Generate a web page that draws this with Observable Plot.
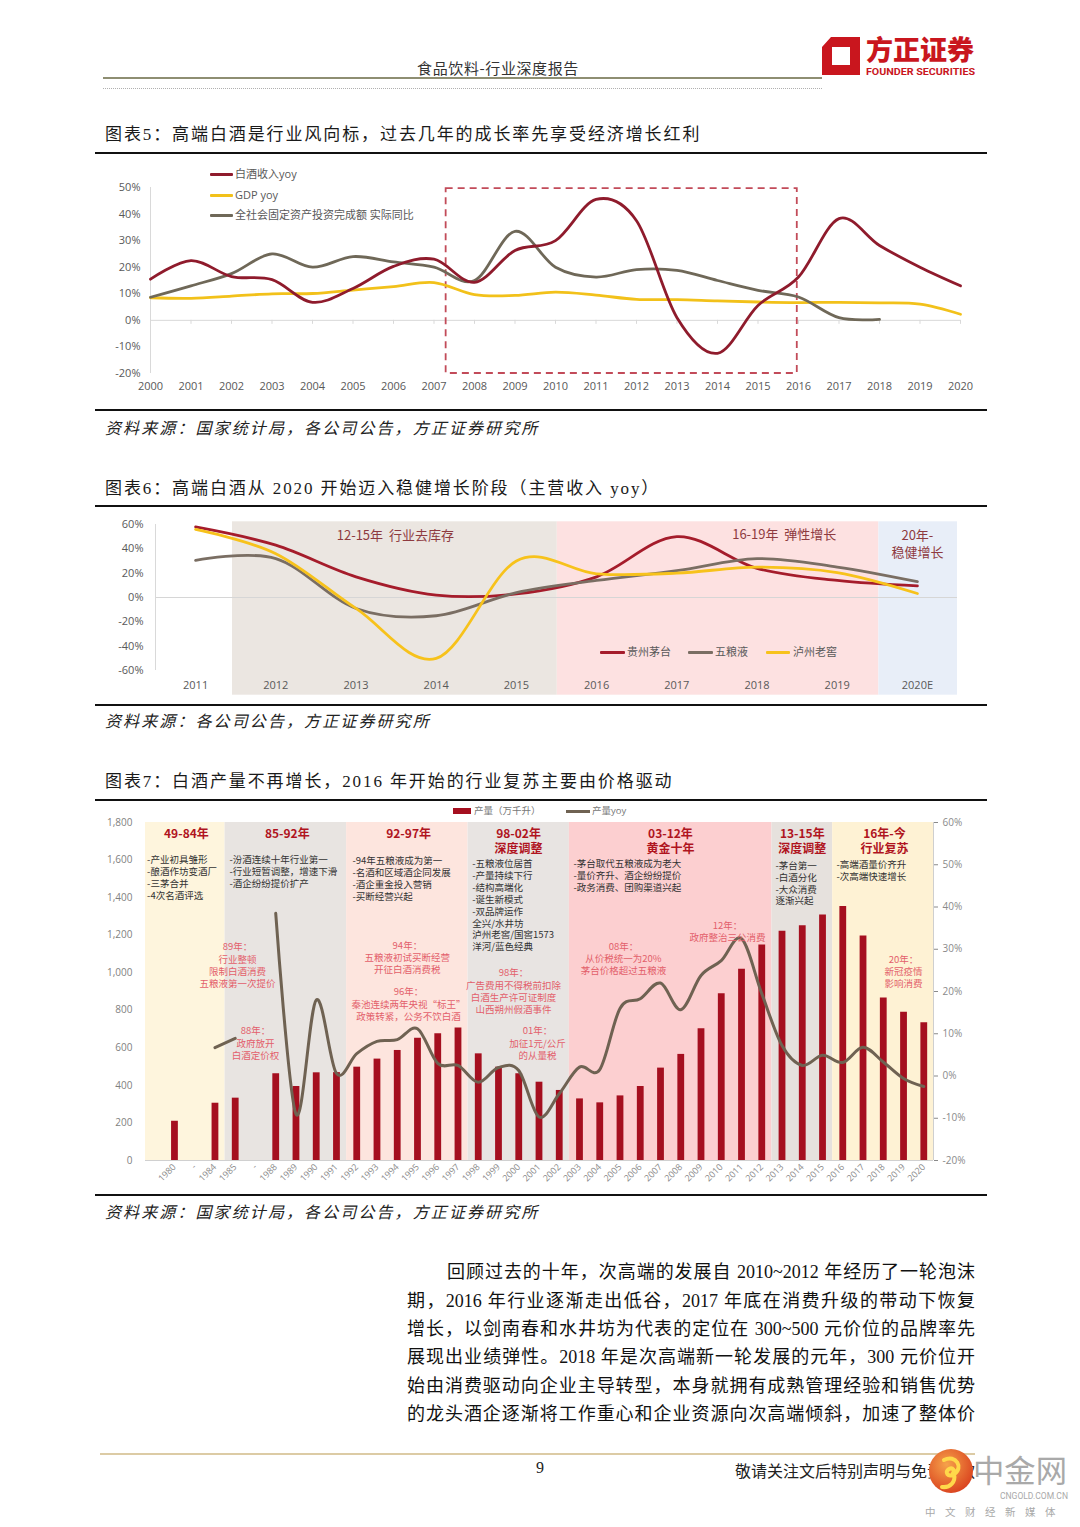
<!DOCTYPE html>
<html lang="zh">
<head>
<meta charset="utf-8">
<script src="https://cdn.jsdelivr.net/npm/d3@7"></script>
<script src="https://cdn.jsdelivr.net/npm/@observablehq/plot@0.6"></script>
<style>
html,body{margin:0;padding:0;background:#fff;}
#page{position:relative;width:1080px;height:1527px;overflow:hidden;background:#fff;font-family:"Noto Sans CJK SC","Noto Sans",sans-serif;color:#222;}
.a{position:absolute;white-space:nowrap;}
.title{left:105px;font-family:"Liberation Serif","Noto Sans CJK SC",serif;font-size:17px;line-height:20px;letter-spacing:1.9px;color:#1a1a1a;}
.src{left:105px;font-size:16px;line-height:20px;letter-spacing:2.1px;font-style:italic;color:#222;}
.thick{position:absolute;left:95px;width:892px;height:0;border-top:2.5px solid #111;}
.lg{font-family:"Open Sans","Noto Sans CJK SC",sans-serif;font-size:11px;line-height:14px;color:#595959;}
.sw{position:absolute;height:3px;border-radius:1px;}
.para{position:absolute;font-family:"Liberation Serif","Noto Sans CJK SC",serif;font-size:18px;line-height:22px;text-align:justify;text-align-last:justify;color:#111;}
.chart{position:absolute;left:0;}
</style>
</head>
<body>
<div id="page">
  <!-- header -->
  <div class="a" style="left:0;width:996px;top:58px;text-align:center;font-size:15px;line-height:20px;letter-spacing:0.6px;color:#333;">食品饮料-行业深度报告</div>
  <div class="a" style="left:103px;top:77px;width:719px;height:0;border-top:2px solid #8e8e72;"></div>
  <div class="a" style="left:103px;top:88px;width:719px;height:0;border-top:1px dotted #b0b0b0;"></div>
  <svg class="a" style="left:815px;top:30px;" width="170" height="55" viewBox="0 0 170 55">
    <path d="M16 7 L45 7 L45 45 L7 45 L7 17 Z M17 17 L17 35 L35 35 L35 17 Z" fill="#c9161e" fill-rule="evenodd"/>
    <text x="51" y="30" font-family="Noto Sans CJK SC" font-weight="900" font-size="27" fill="#c9161e" textLength="108" lengthAdjust="spacingAndGlyphs">方正证券</text>
    <text x="51" y="45" font-family="Roboto, sans-serif" font-weight="700" font-size="9.5" fill="#c9161e" textLength="109" lengthAdjust="spacingAndGlyphs">FOUNDER SECURITIES</text>
  </svg>

  <!-- chart 5 -->
  <div class="a title" style="top:125px;">图表5：高端白酒是行业风向标，过去几年的成长率先享受经济增长红利</div>
  <div class="thick" style="top:152px;"></div>
  <div class="chart" id="c5" style="top:170px;"></div>
  <div class="sw" style="left:210px;top:172.5px;width:23px;background:#8f1b2c"></div>
  <div class="a lg" style="left:235px;top:167px;">白酒收入yoy</div>
  <div class="sw" style="left:210px;top:193.5px;width:23px;background:#f2c11a"></div>
  <div class="a lg" style="left:235px;top:188px;">GDP yoy</div>
  <div class="sw" style="left:210px;top:213.5px;width:23px;background:#6f6858"></div>
  <div class="a lg" style="left:235px;top:208px;">全社会固定资产投资完成额 实际同比</div>
  <div class="thick" style="top:409px;"></div>
  <div class="a src" style="top:417px;">资料来源：国家统计局，各公司公告，方正证券研究所</div>

  <!-- chart 6 -->
  <div class="a title" style="top:479px;">图表6：高端白酒从 2020 开始迈入稳健增长阶段（主营收入 yoy）</div>
  <div class="thick" style="top:505px;"></div>
  <div class="chart" id="c6" style="top:510px;"></div>
  <div class="sw" style="left:600px;top:650.5px;width:25px;background:#a51c2b"></div>
  <div class="a lg" style="left:627px;top:645px;">贵州茅台</div>
  <div class="sw" style="left:688px;top:650.5px;width:25px;background:#7a6e63"></div>
  <div class="a lg" style="left:715px;top:645px;">五粮液</div>
  <div class="sw" style="left:766px;top:650.5px;width:24px;background:#f7c21b"></div>
  <div class="a lg" style="left:793px;top:645px;">泸州老窖</div>
  <div class="thick" style="top:704px;"></div>
  <div class="a src" style="top:710px;">资料来源：各公司公告，方正证券研究所</div>

  <!-- chart 7 -->
  <div class="a title" style="top:772px;">图表7：白酒产量不再增长，2016 年开始的行业复苏主要由价格驱动</div>
  <div class="thick" style="top:799px;"></div>
  <div class="chart" id="c7" style="top:815px;"></div>
  <div class="a" style="left:453px;top:808px;width:18px;height:6px;background:#a50f1f;"></div>
  <div class="a lg" style="left:474px;top:804px;font-size:9.5px;color:#777;">产量（万千升）</div>
  <div class="a" style="left:566px;top:809.5px;width:24px;height:3px;background:#6f6252;"></div>
  <div class="a lg" style="left:592px;top:804px;font-size:9.5px;color:#777;">产量yoy</div>
  <div class="thick" style="top:1194px;"></div>
  <div class="a src" style="top:1201px;">资料来源：国家统计局，各公司公告，方正证券研究所</div>

  <!-- paragraph -->
  <div class="para" style="left:447px;width:528px;top:1261px;">回顾过去的十年，次高端的发展自 2010~2012 年经历了一轮泡沫</div>
  <div class="para" style="left:407px;width:568px;top:1289.5px;">期，2016 年行业逐渐走出低谷，2017 年底在消费升级的带动下恢复</div>
  <div class="para" style="left:407px;width:568px;top:1318px;">增长，以剑南春和水井坊为代表的定位在 300~500 元价位的品牌率先</div>
  <div class="para" style="left:407px;width:568px;top:1346px;">展现出业绩弹性。2018 年是次高端新一轮发展的元年，300 元价位开</div>
  <div class="para" style="left:407px;width:568px;top:1374.5px;">始由消费驱动向企业主导转型，本身就拥有成熟管理经验和销售优势</div>
  <div class="para" style="left:407px;width:568px;top:1403px;">的龙头酒企逐渐将工作重心和企业资源向次高端倾斜，加速了整体价</div>

  <!-- footer -->
  <div class="a" style="left:100px;top:1453px;width:875px;height:0;border-top:2px solid #dccba5;"></div>
  <div class="a" style="left:530px;top:1458px;width:20px;text-align:center;font-family:'Liberation Serif',serif;font-size:16px;line-height:20px;color:#222;">9</div>
  <div class="a" style="left:735px;top:1460px;font-size:16px;line-height:20px;color:#222;">敬请关注文后特别声明与免责条款</div>
  <svg class="a" style="left:920px;top:1440px;" width="160" height="87" viewBox="0 0 160 87">
    <defs><radialGradient id="wg" cx="40%" cy="35%" r="70%"><stop offset="0" stop-color="#f6a24a"/><stop offset="1" stop-color="#d9401e"/></radialGradient></defs>
    <circle cx="31" cy="31" r="22" fill="url(#wg)"/>
    <path d="M24 20 C36 14 44 28 34 34 C28 38 24 32 29 29 C33 27 35 31 33 33 M34 34 C36 42 30 48 22 47" fill="none" stroke="#ffd84a" stroke-width="4" stroke-linecap="round"/>
    <text x="53" y="42" font-family="Noto Sans CJK SC" font-size="31" fill="#a9a9a9" textLength="94" lengthAdjust="spacingAndGlyphs">中金网</text>
    <text x="80" y="59" font-family="Roboto, sans-serif" font-size="8.5" fill="#a9a9a9" textLength="68" lengthAdjust="spacingAndGlyphs">CNGOLD.COM.CN</text>
    <text x="5" y="76" font-family="Noto Sans CJK SC" font-size="10.5" fill="#a9a9a9" letter-spacing="9.5">中文财经新媒体</text>
  </svg>
</div>

<script>
const FONT = '"Open Sans","Noto Sans CJK SC",sans-serif';

// ================= Chart 5 data =================
const years5 = [2000,2001,2002,2003,2004,2005,2006,2007,2008,2009,2010,2011,2012,2013,2014,2015,2016,2017,2018,2019,2020];
const baijiuYoy5 = [15.5,22.5,16.5,15.3,6.8,12,20.3,23,14.3,26.3,30,45.5,37.5,1,-12.4,5.6,16.3,38.3,28.2,20,13];
const gdpYoy5 = [8.5,8.3,9.1,10.0,10.1,11.4,12.7,14.2,9.7,9.4,10.6,9.5,7.9,7.8,7.3,6.9,6.7,6.8,6.6,6.1,2.3];
const investYoy5 = [8.7,13,17.6,25,20,24,22,20,15,33.5,20,16.3,19.1,18.8,15,11.3,8.8,1,0.4,null,null];
const yTicks5 = [-20,-10,0,10,20,30,40,50];
const focusBox5 = [{from: 2007.3, to: 2015.97, low: -20, high: 49.6}];

// ================= Chart 6 data =================
const years6 = [2011,2012,2013,2014,2015,2016,2017,2018,2019,2020];
const yearLabels6 = ["2011","2012","2013","2014","2015","2016","2017","2018","2019","2020E"];
const maotai6 = [58,43,17,2,3,17,50,24,14,9.5];
const wuliangye6 = [30.5,32,-9,-15,4,14,22,32,25,13];
const luzhou6 = [56,36,-9,-50,30,19.5,20,25,20.5,3.3];
const yTicks6 = [-60,-40,-20,0,20,40,60];
const phases6 = [
  {name: "去库存", from: 2011.46, to: 2015.51},
  {name: "弹性增长", from: 2015.51, to: 2019.52},
  {name: "稳健增长", from: 2019.52, to: 2020.5}
];
const phaseSpan6 = {low: -80.3, high: 62.2};
const phaseLabels6 = [
  {text: "12-15年  行业去库存", x: 2013.49, y: 51.5},
  {text: "16-19年  弹性增长", x: 2018.34, y: 52.3},
  {text: "20年-\n稳健增长", x: 2020.0, y: 45.0}
];

// ================= Chart 7 data =================
const labels7 = ["1980","-","1984","1985","-","1988","1989","1990","1991","1992","1993","1994","1995","1996","1997","1998","1999","2000","2001","2002","2003","2004","2005","2006","2007","2008","2009","2010","2011","2012","2013","2014","2015","2016","2017","2018","2019","2020"];
const production7 = [209,null,305,332,null,462,394,467,468,497,540,586,651,675,705,568,497,462,417,373,328,307,344,394,492,565,701,888,1019,1148,1221,1250,1308,1353,1195,866,790,734];
const yoy7 = [null,null,6.7,8.9,null,38.5,-9,18,0.6,5.3,8.2,8.6,11.2,3,2.5,-1.5,2,1.3,-9.7,-4.2,2.1,1.5,16,18.3,22,15.7,23.8,27.3,32.5,19.5,7.2,2.5,4.9,3.2,6.8,3.3,-0.6,-2.5];
const leftTicks7 = [0,200,400,600,800,1000,1200,1400,1600,1800];
const pctTicks7 = [-20,-10,0,10,20,30,40,50,60];
const eras7 = [
  {title: "49-84年", first: "1980", last: "1984"},
  {title: "85-92年", first: "1985", last: "1991"},
  {title: "92-97年", first: "1992", last: "1997"},
  {title: "98-02年", first: "1998", last: "2002"},
  {title: "03-12年", first: "2003", last: "2012"},
  {title: "13-15年", first: "2013", last: "2015"},
  {title: "16年-今", first: "2016", last: "2020"}
];
const eraTitles7 = [
  {text: "49-84年", x: 0.59, y: 1773},
  {text: "85-92年", x: 5.57, y: 1773},
  {text: "92-97年", x: 11.56, y: 1773},
  {text: "98-02年\n深度调整", x: 16.99, y: 1773},
  {text: "03-12年\n黄金十年", x: 24.49, y: 1773},
  {text: "13-15年\n深度调整", x: 31.0, y: 1773},
  {text: "16年-今\n行业复苏", x: 35.06, y: 1773}
];
const bullets7 = [
  {text: "-产业初具雏形\n-酿酒作坊变酒厂\n-三茅合并\n-4次名酒评选", x: -1.35, y: 1628},
  {text: "-汾酒连续十年行业第一\n-行业短暂调整，增速下滑\n-酒企纷纷提价扩产", x: 2.72, y: 1628},
  {text: "-94年五粮液成为第一\n-名酒和区域酒企同发展\n-酒企重金投入营销\n-买断经营兴起", x: 8.79, y: 1624},
  {text: "-五粮液位居首\n-产量持续下行\n-结构高端化\n-诞生新模式\n-双品牌运作\n全兴/水井坊\n泸州老窖/国窖1573\n洋河/蓝色经典", x: 14.7, y: 1607},
  {text: "-茅台取代五粮液成为老大\n-量价齐升、酒企纷纷提价\n-政务消费、团购渠道兴起", x: 19.7, y: 1607},
  {text: "-茅台第一\n-白酒分化\n-大众消费\n逐渐兴起", x: 29.68, y: 1598},
  {text: "-高端酒量价齐升\n-次高端快速增长", x: 32.69, y: 1602}
];
const events7 = [
  {text: "89年：\n行业整顿\n限制白酒消费\n五粮液第一次提价", x: 3.11, y: 1166},
  {text: "88年：\n政府放开\n白酒定价权", x: 4.0, y: 718},
  {text: "94年：\n五粮液初试买断经营\n开征白酒消费税", x: 11.5, y: 1175},
  {text: "96年：\n秦池连续两年央视“标王”\n政策转紧，公务不饮白酒", x: 11.56, y: 927},
  {text: "98年：\n广告费用不得税前扣除\n白酒生产许可证制度\n山西朔州假酒事件", x: 16.74, y: 1028},
  {text: "01年：\n加征1元/公斤\n的从量税", x: 17.93, y: 718},
  {text: "08年：\n从价税统一为20%\n茅台价格超过五粮液", x: 22.17, y: 1170},
  {text: "12年：\n政府整治三公消费", x: 27.31, y: 1280},
  {text: "20年：\n新冠疫情\n影响消费", x: 36.0, y: 1101}
];

// ================= Chart 5 =================
const c5 = Plot.plot({
  width: 1000, height: 230,
  marginLeft: 150, marginRight: 40, marginTop: 17, marginBottom: 27,
  x: {domain: [2000, 2020], label: null},
  y: {domain: [-20, 50], label: null},
  style: {fontFamily: FONT, fontSize: "11px", color: "#595959", background: "transparent", overflow: "visible"},
  marks: [
    Plot.ruleX([2000], {y1: -20, y2: 50, stroke: "#d9d9d9"}),
    Plot.ruleY([0], {stroke: "#d9d9d9"}),
    Plot.ruleX(years5, {x: d => d, y1: 0, y2: -1.5, stroke: "#d9d9d9"}),
    Plot.axisY({ticks: yTicks5, tickSize: 0, tickPadding: 10, label: null, tickFormat: d => d + "%"}),
    Plot.axisX({ticks: years5, tickSize: 0, tickPadding: 9, label: null, tickFormat: d => String(d)}),
    Plot.rect(focusBox5, {x1: "from", x2: "to", y1: "low", y2: "high", fill: "none", stroke: "#c24b59", strokeWidth: 1.8, strokeDasharray: "7,5"}),
    Plot.line(years5, {x: d => d, y: (d, i) => gdpYoy5[i], stroke: "#f2c11a", strokeWidth: 2.8, curve: "cardinal"}),
    Plot.line(years5, {x: d => d, y: (d, i) => investYoy5[i] == null ? NaN : investYoy5[i], stroke: "#6f6858", strokeWidth: 2.8, curve: "cardinal"}),
    Plot.line(years5, {x: d => d, y: (d, i) => baijiuYoy5[i], stroke: "#8f1b2c", strokeWidth: 2.8, curve: "cardinal"})
  ]
});
document.getElementById("c5").append(c5);

// ================= Chart 6 =================
const phaseFill6 = {"去库存": "#ebe6e1", "弹性增长": "#fde1e1", "稳健增长": "#e8eef8"};
const c6 = Plot.plot({
  width: 1000, height: 190,
  marginLeft: 155, marginRight: 43, marginTop: 14, marginBottom: 30,
  x: {domain: [2010.5, 2020.5], label: null},
  y: {domain: [-60, 60], label: null},
  style: {fontFamily: FONT, fontSize: "11px", color: "#595959", background: "transparent", overflow: "visible"},
  marks: [
    ...phases6.map(p => Plot.rect([p], {x1: "from", x2: "to", y1: phaseSpan6.low, y2: phaseSpan6.high, fill: phaseFill6[p.name]})),
    Plot.ruleY([0], {stroke: "#d6d6d6"}),
    Plot.ruleX([2010.5], {y1: -60, y2: 60, stroke: "#d9d9d9"}),
    Plot.axisY({ticks: yTicks6, tickSize: 0, tickPadding: 12, label: null, tickFormat: d => d + "%"}),
    Plot.axisX({ticks: years6, tickSize: 0, tickPadding: 11, label: null, tickFormat: d => yearLabels6[years6.indexOf(d)]}),
    Plot.line(years6, {x: d => d, y: (d, i) => maotai6[i], stroke: "#a51c2b", strokeWidth: 2.8, curve: "cardinal"}),
    Plot.line(years6, {x: d => d, y: (d, i) => wuliangye6[i], stroke: "#7a6e63", strokeWidth: 2.8, curve: "cardinal"}),
    Plot.line(years6, {x: d => d, y: (d, i) => luzhou6[i], stroke: "#f7c21b", strokeWidth: 2.8, curve: "cardinal"}),
    Plot.text(phaseLabels6, {x: "x", y: "y", text: "text", fill: "#8e3a3f", fontSize: 13, lineHeight: 1.3, fontFamily: '"Noto Sans CJK SC",sans-serif'})
  ]
});
document.getElementById("c6").append(c6);

// ================= Chart 7 =================
const xDomain7 = [-1.43, 37.48];
const toLeft7 = p => (p + 20) * 22.5;   // map right-axis % onto the left-axis scale
const rows7 = labels7.map((label, i) => ({i, label, prod: production7[i], yoy: yoy7[i]}));
const eraFill7 = {"49-84年": "#fef5dd", "85-92年": "#e8e4e1", "92-97年": "#fde5de", "98-02年": "#e8e4e2", "03-12年": "#fccfd0", "13-15年": "#e6e1dd", "16年-今": "#fef2d4"};
const eraRects7 = eras7.map((e, k) => ({
  title: e.title,
  x1: k === 0 ? xDomain7[0] : labels7.indexOf(e.first) - 0.5,
  x2: k === eras7.length - 1 ? xDomain7[1] : labels7.indexOf(e.last) + 0.5
}));
const c7 = Plot.plot({
  width: 1000, height: 380,
  marginLeft: 145, marginRight: 67, marginTop: 7, marginBottom: 35,
  x: {domain: xDomain7, label: null},
  y: {domain: [0, 1800], label: null},
  style: {fontFamily: FONT, fontSize: "10px", color: "#7f7f7f", background: "transparent", overflow: "visible"},
  marks: [
    ...eraRects7.map(e => Plot.rect([e], {x1: "x1", x2: "x2", y1: 0, y2: 1800, fill: eraFill7[e.title]})),
    Plot.ruleY([0], {stroke: "#d0d0d0"}),
    Plot.ruleX([xDomain7[1]], {y1: 0, y2: 1800, stroke: "#cfcfcf"}),
    Plot.axisY({ticks: leftTicks7, tickSize: 0, tickPadding: 13, label: null, tickFormat: d3.format(",")}),
    Plot.axisY({anchor: "right", ticks: pctTicks7.map(toLeft7), tickSize: 4, tickPadding: 5, label: null, color: "#8a8a8a", tickFormat: d => Math.round(d / 22.5 - 20) + "%"}),
    Plot.axisX({ticks: rows7.map(d => d.i), tickFormat: i => labels7[i], tickRotate: -45, tickSize: 0, tickPadding: 5, label: null, fontSize: 9, color: "#8a8a8a"}),
    Plot.ruleX(rows7.filter(d => d.prod != null), {x: "i", y1: 0, y2: "prod", stroke: "#a50f1f", strokeWidth: 6.8}),
    Plot.line(rows7, {x: "i", y: d => d.yoy == null ? NaN : toLeft7(d.yoy), stroke: "#6f6252", strokeWidth: 3, curve: "cardinal"}),
    Plot.text(eraTitles7, {x: "x", y: "y", text: "text", fill: "#b0141e", fontWeight: "bold", fontSize: 12, lineAnchor: "top", lineHeight: 1.25, fontFamily: '"Noto Sans CJK SC",sans-serif'}),
    Plot.text(bullets7, {x: "x", y: "y", text: "text", fill: "#333", fontSize: 9.5, textAnchor: "start", lineAnchor: "top", lineHeight: 1.25, fontFamily: '"Noto Sans CJK SC",sans-serif'}),
    Plot.text(events7, {x: "x", y: "y", text: "text", fill: "#e35f6b", fontSize: 9.5, lineAnchor: "top", lineHeight: 1.3, fontFamily: '"Noto Sans CJK SC",sans-serif'})
  ]
});
document.getElementById("c7").append(c7);
</script>
</body>
</html>
